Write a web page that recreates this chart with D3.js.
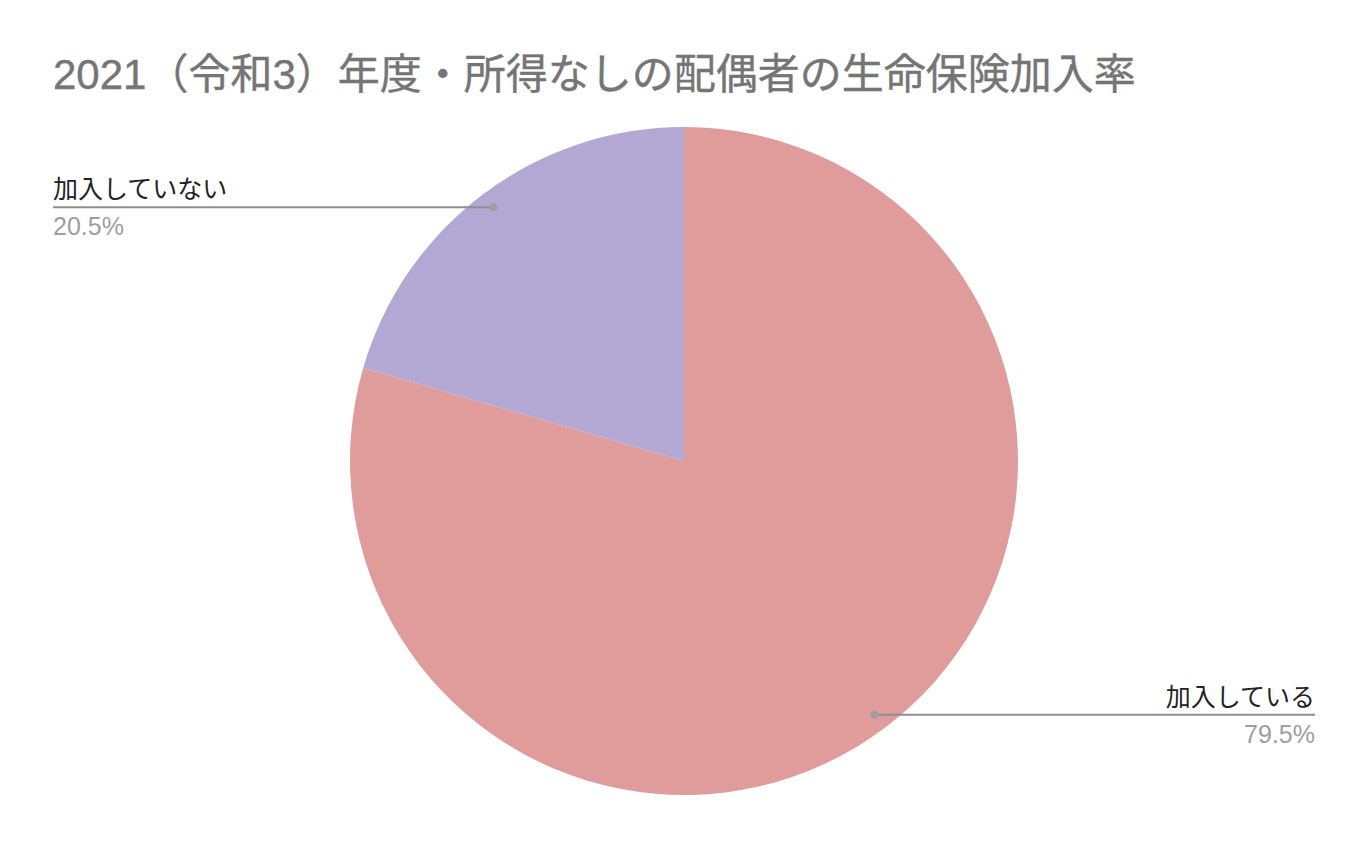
<!DOCTYPE html>
<html>
<head>
<meta charset="utf-8">
<script src="https://d3js.org/d3.v7.min.js"></script>
<style>
  body { margin: 0; background: #fff; }
  text { font-family: "Liberation Sans", Arial, "Noto Sans CJK JP", sans-serif; }
</style>
</head>
<body>
<svg id="chart" width="1368" height="856"></svg>
<script>
  // data
  const labels = ["加入している", "加入していない"];
  const values = [79.5, 20.5];
  const colors = ["#e09c9b", "#b3a7d3"];

  const svg = d3.select("#chart");
  const cx = 684, cy = 461, r = 334;

  svg.append("text")
    .attr("x", 53).attr("y", 89)
    .attr("font-size", 42)
    .attr("fill", "#757575")
    .attr("stroke", "#757575").attr("stroke-width", 0.4)
    .text("2021（令和3）年度・所得なしの配偶者の生命保険加入率");

  const pie = d3.pie().sort(null).value(d => d)(values);
  const arc = d3.arc().innerRadius(0).outerRadius(r);

  const g = svg.append("g").attr("transform", `translate(${cx},${cy})`);
  g.selectAll("path")
    .data(pie)
    .join("path")
    .attr("d", arc)
    .attr("fill", (d, i) => colors[i]);

  // callouts: dot on the slice, line out to the label side
  const labelArc = d3.arc().innerRadius(r * 0.95).outerRadius(r * 0.95);
  pie.forEach((d, i) => {
    const [px, py] = labelArc.centroid(d);
    const dx = cx + px, dy = cy + py;
    const right = dx > cx;
    const endX = right ? 1315 : 53;
    svg.append("line")
      .attr("x1", dx).attr("y1", dy)
      .attr("x2", endX).attr("y2", dy)
      .attr("stroke", "#8f8f8f").attr("stroke-width", 2);
    svg.append("circle")
      .attr("cx", dx).attr("cy", dy).attr("r", 4)
      .attr("fill", "#9e9e9e");
    svg.append("text")
      .attr("x", endX).attr("y", dy - 9)
      .attr("text-anchor", right ? "end" : "start")
      .attr("font-size", 25).attr("fill", "#222")
      .text(labels[i]);
    svg.append("text")
      .attr("x", endX).attr("y", dy + 28)
      .attr("text-anchor", right ? "end" : "start")
      .attr("font-size", 25).attr("fill", "#9e9e9e")
      .text(values[i].toFixed(1) + "%");
  });
</script>
</body>
</html>
